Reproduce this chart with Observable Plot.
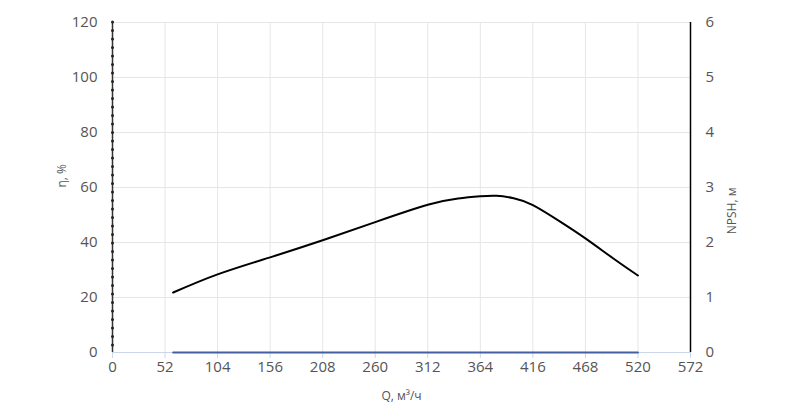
<!DOCTYPE html>
<html>
<head>
<meta charset="utf-8">
<script src="https://cdn.jsdelivr.net/npm/d3@7"></script>
<script src="https://cdn.jsdelivr.net/npm/@observablehq/plot@0.6"></script>
<style>
  html, body { margin: 0; padding: 0; background: #fff; }
  #chart { width: 800px; height: 408px; }
</style>
</head>
<body>
<div id="chart"></div>
<script>
// Data
const xTicks = [0, 52, 104, 156, 208, 260, 312, 364, 416, 468, 520, 572];
const etaTicks = [0, 20, 40, 60, 80, 100, 120];
const npshTicks = [0, 1, 2, 3, 4, 5, 6];

const qEta = [60, 104, 156, 208, 260, 312, 342, 364, 380, 397, 416, 443, 468, 496, 520];
const etaValues = [21.8, 28.4, 34.6, 40.8, 47.4, 53.7, 56.0, 56.8, 57.0, 56.1, 53.6, 47.6, 41.5, 34.1, 28.0];

const qNpsh = [60, 243, 336, 520];
const npshValues = [0, 0, 0, 0];

const npshScale = 20; // NPSH 6 m  <->  η 120 %

const etaData = qEta.map((q, i) => ({q, v: etaValues[i]}));
const npshData = qNpsh.map((q, i) => ({q, v: npshValues[i] * npshScale}));

const font = "'Open Sans', 'DejaVu Sans', sans-serif";

const chart = Plot.plot({
  width: 800,
  height: 408,
  marginLeft: 112,
  marginRight: 110,
  marginTop: 22,
  marginBottom: 56,
  style: {fontFamily: font, background: "#fff"},
  x: {domain: [0, 572]},
  y: {domain: [0, 120]},
  marks: [
    Plot.gridX(xTicks, {stroke: "#e6e6e6", strokeOpacity: 1}),
    Plot.gridY(etaTicks, {stroke: "#e6e6e6", strokeOpacity: 1}),
    Plot.ruleY([0], {stroke: "#ccd6eb", strokeWidth: 1}),
    Plot.axisX(xTicks, {tickSize: 6, stroke: "#ccd6eb", fill: "#555", fontSize: 15, tickPadding: 3, label: null}),
    Plot.axisY(etaTicks, {anchor: "left", tickSize: 0, tickPadding: 15, fill: "#555", fontSize: 15, label: null}),
    Plot.axisY(npshTicks.map(d => d * npshScale), {anchor: "right", tickSize: 0, tickPadding: 15, fill: "#555", fontSize: 15, label: null, tickFormat: d => d / npshScale}),
    Plot.ruleX([0], {stroke: "#333", strokeWidth: 1.5}),
    Plot.ruleX([0], {stroke: "#222", strokeWidth: 3, strokeDasharray: "0,8.5", strokeLinecap: "round"}),
    Plot.ruleX([572], {stroke: "#000", strokeWidth: 1.5}),
    Plot.line(npshData, {x: "q", y: "v", stroke: "#4560a0", strokeWidth: 2}),
    Plot.line(etaData, {x: "q", y: "v", stroke: "#000", strokeWidth: 2, curve: "natural"}),
    Plot.text(["η, %"], {frameAnchor: "left", dx: -50, rotate: -90, fill: "#555", fontSize: 12, text: d => d}),
    Plot.text(["NPSH, м"], {frameAnchor: "right", dx: 42, rotate: -90, fill: "#555", fontSize: 12, text: d => d}),
    Plot.text(["Q, м³/ч"], {frameAnchor: "bottom", dy: 47, fill: "#555", fontSize: 12, text: d => d})
  ]
});
document.getElementById("chart").appendChild(chart);
</script>
</body>
</html>
